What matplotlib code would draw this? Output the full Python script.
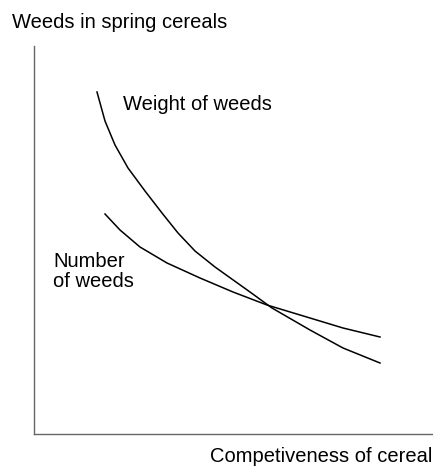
import matplotlib.pyplot as plt

# schematic curves (arbitrary units)
competitiveness_w = [63, 71, 81, 94, 111, 128, 144, 161, 181, 216, 238, 276, 309, 346]
weight_of_weeds = [342, 313, 289, 266, 243, 221, 201, 183, 167, 142, 126, 104, 86, 71]

competitiveness_n = [71, 86, 106, 133, 166, 199, 233, 276, 309, 346]
number_of_weeds = [220, 204, 187, 171, 156, 142, 129, 116, 106, 97]

W, H = 433, 469
plt.rcParams['font.family'] = ['Liberation Sans', 'DejaVu Sans']

fig = plt.figure(figsize=(W / 100, H / 100), dpi=100)
ax = fig.add_axes([34 / W, 1 - 434 / H, (W - 34) / W, (434 - 46) / H])

ax.plot(competitiveness_w, weight_of_weeds, color="black", lw=1.1,
        solid_joinstyle="round")
ax.plot(competitiveness_n, number_of_weeds, color="black", lw=1.1,
        solid_joinstyle="round")

ax.set_xlim(0, 399)
ax.set_ylim(0, 388)
ax.set_xticks([])
ax.set_yticks([])
for side in ["top", "right"]:
    ax.spines[side].set_visible(False)
for side in ["left", "bottom"]:
    ax.spines[side].set_color("#666666")
    ax.spines[side].set_linewidth(1.0)

# labels, placed in figure pixels
def ftext(x, y, s, **kw):
    fig.text(x / W, 1 - y / H, s, fontsize=14.5, va="baseline", **kw)

ftext(12, 28, "Weeds in spring cereals")
ftext(432, 462, "Competiveness of cereal", ha="right")
ftext(123, 110, "Weight of weeds")
ftext(53, 267, "Number")
ftext(53, 287, "of weeds")

plt.savefig("out.png", dpi=100)
plt.close()
